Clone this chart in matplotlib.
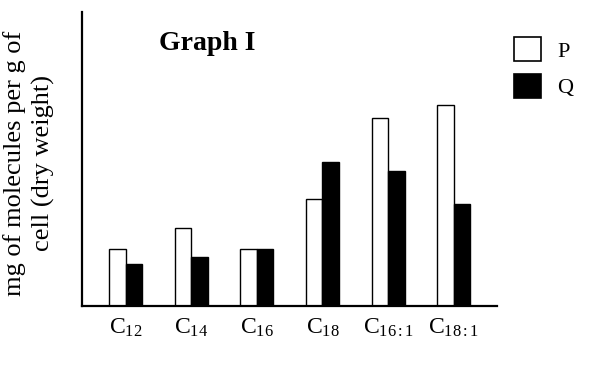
import matplotlib
matplotlib.use("Agg")
import matplotlib.pyplot as plt
import numpy as np
from matplotlib.patches import Patch

categories = ["C$_{12}$", "C$_{14}$", "C$_{16}$", "C$_{18}$", "C$_{16{:}1}$", "C$_{18{:}1}$"]
series_P = [5.7, 7.8, 5.7, 10.7, 18.8, 20.1]
series_Q = [4.2, 4.9, 5.7, 14.4, 13.5, 10.2]
series_names = ["P", "Q"]

plt.rcParams['font.family'] = ['Liberation Serif', 'DejaVu Serif']
plt.rcParams['mathtext.fontset'] = 'custom'
plt.rcParams['mathtext.rm'] = 'Liberation Serif'
plt.rcParams['mathtext.it'] = 'Liberation Serif:italic'
plt.rcParams['mathtext.bf'] = 'Liberation Serif:bold'

fig = plt.figure(figsize=(6.15, 3.75), dpi=100)
ax = fig.add_axes([82/615, 1-306/375, (497-82)/615, (306-12)/375])

x = np.arange(len(categories))
w = 0.2515
bP = ax.bar(x - w/2, series_P, w, color='white', edgecolor='black', linewidth=1.0)
bQ = ax.bar(x + w/2, series_Q, w, color='black', edgecolor='black', linewidth=1.0)

ax.set_xlim(-0.666, 5.66)
ax.set_ylim(0, 29.4)
ax.set_xticks(x)
ax.set_xticklabels(categories, fontsize=17)
ax.tick_params(axis='x', length=0, pad=8)
ax.set_yticks([])
for s in ['top', 'right']:
    ax.spines[s].set_visible(False)
for s in ['left', 'bottom']:
    ax.spines[s].set_linewidth(1.6)

fig.text(159/615, 1-43/375, "Graph I", fontsize=20,
         fontweight='bold', ha='left', va='center')

fig.text(29/615, 1-163/375, "mg of molecules per g of\ncell (dry weight)",
         rotation=90, ha='center', va='center', multialignment='center',
         fontsize=19, linespacing=1.28)

handles = [Patch(facecolor='white', edgecolor='black', linewidth=1.2),
           Patch(facecolor='black', edgecolor='black', linewidth=1.2)]
fig.legend(handles, series_names, loc='upper left', bbox_to_anchor=(514/615, 1-37/375),
           frameon=False, fontsize=16, handlelength=1.2, handleheight=1.3,
           labelspacing=0.55, handletextpad=0.75, borderaxespad=0, borderpad=0)

fig.savefig("out.png", dpi=100)
